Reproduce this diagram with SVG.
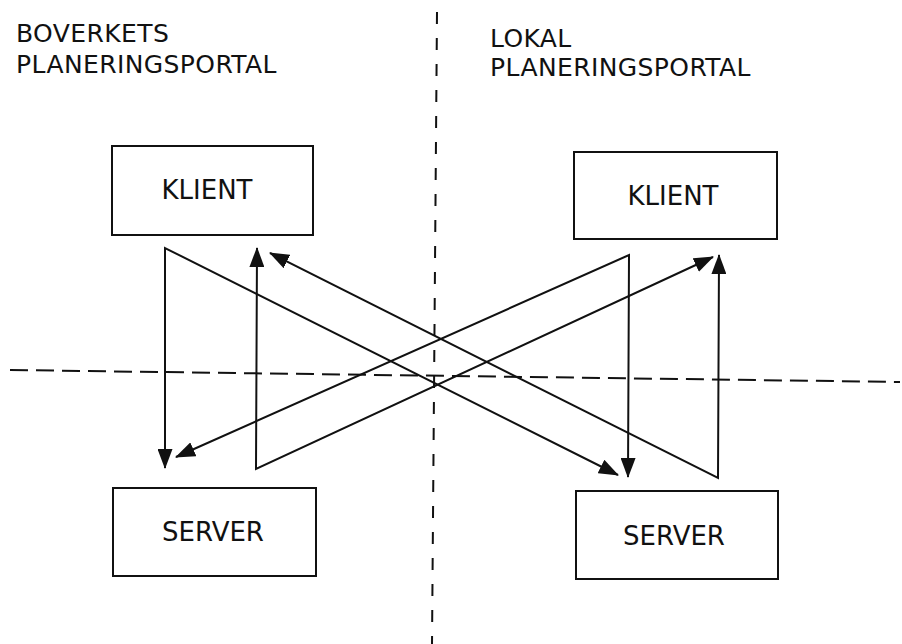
<svg xmlns="http://www.w3.org/2000/svg" width="902" height="644" viewBox="0 0 902 644">
  <style>
    .box { fill: #ffffff; stroke: #111111; stroke-width: 2; }
    .label { font-family: "DejaVu Sans", Verdana, sans-serif; font-size: 26px; fill: #111111; }
    .title { font-family: "DejaVu Sans", Verdana, sans-serif; font-size: 25px; letter-spacing: 0.4px; fill: #111111; }
    .flow { fill: none; stroke: #111111; stroke-width: 2; stroke-linejoin: miter; marker-start: url(#head); marker-end: url(#head); }
    .divider { fill: none; stroke: #111111; stroke-width: 2; }
  </style>
  <defs>
    <marker id="head" markerUnits="userSpaceOnUse" markerWidth="20" markerHeight="15" refX="19" refY="7.5" orient="auto-start-reverse">
      <path d="M0,0 L20,7.5 L0,15 Z" fill="#111111"/>
    </marker>
  </defs>
  <rect width="902" height="644" fill="#ffffff"/>

  <!-- dividing lines between the two portals and the two tiers -->
  <g id="dividers">
    <line class="divider" x1="437" y1="12" x2="432" y2="644" stroke-dasharray="12 14"/>
    <line class="divider" x1="10" y1="370" x2="900" y2="382" stroke-dasharray="18 8"/>
  </g>

  <!-- headings -->
  <g id="heading-left">
    <text class="title" x="16" y="42">BOVERKETS</text>
    <text class="title" x="16" y="73">PLANERINGSPORTAL</text>
  </g>
  <g id="heading-right">
    <text class="title" x="490" y="47">LOKAL</text>
    <text class="title" x="490" y="76">PLANERINGSPORTAL</text>
  </g>

  <!-- nodes -->
  <g id="klient-left">
    <rect class="box" x="112" y="146" width="201" height="89"/>
    <text class="label" x="207" y="199" text-anchor="middle">KLIENT</text>
  </g>
  <g id="klient-right">
    <rect class="box" x="574" y="152" width="203" height="87"/>
    <text class="label" x="673" y="205" text-anchor="middle">KLIENT</text>
  </g>
  <g id="server-left">
    <rect class="box" x="113" y="488" width="203" height="88"/>
    <text class="label" x="213" y="541" text-anchor="middle">SERVER</text>
  </g>
  <g id="server-right">
    <rect class="box" x="576" y="491" width="202" height="88"/>
    <text class="label" x="674" y="545" text-anchor="middle">SERVER</text>
  </g>

  <!-- connectors: each source fans out to both targets -->
  <g id="connectors">
    <polyline class="flow" points="618,475 165,248 165,468"/>
    <polyline class="flow" points="176,457 629,255 628,477"/>
    <polyline class="flow" points="257,248 256,469 713,257"/>
    <polyline class="flow" points="270,253 718,478 719,255"/>
  </g>
</svg>
